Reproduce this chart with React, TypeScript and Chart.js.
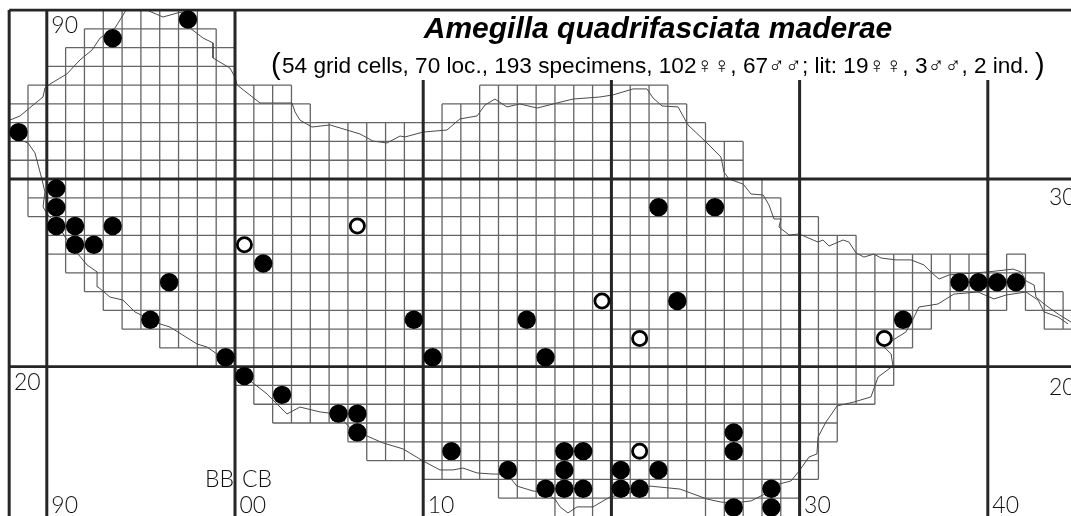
import React, { useEffect, useRef } from "react";
import { Chart, registerables } from "chart.js";

Chart.register(...registerables);

const titleText = "Amegilla quadrifasciata maderae";
const subtitleText = "54 grid cells, 70 loc., 193 specimens, 102\u2640\u2640, 67\u2642\u2642; lit: 19\u2640\u2640, 3\u2642\u2642, 2 ind.";

const eastTicks = [90, 100, 110, 130, 140];
const eastTickLabels = ["90", "00", "10", "30", "40"];
const thickEastFull = [88, 90, 100];
const thickEastShort = [110, 120, 130, 140];
const thickNorth = [39, 30, 20];

// survey cells: [northing of the row, from easting, to easting, ...]
const rows: number[][] = [
  [38, 93, 98],
  [37, 92, 99],
  [36, 91, 100],
  [35, 90, 100],
  [34, 89, 103, 113, 123],
  [33, 88, 104, 111, 124],
  [32, 88, 125],
  [31, 88, 127],
  [30, 88, 127],
  [29, 89, 128],
  [28, 89, 129],
  [27, 90, 131],
  [26, 90, 133],
  [25, 91, 140, 141, 142],
  [24, 92, 143],
  [23, 93, 141, 142, 144],
  [22, 94, 137, 143, 145],
  [21, 96, 136],
  [20, 98, 135],
  [19, 100, 135],
  [18, 101, 134],
  [17, 102, 132],
  [16, 106, 132],
  [15, 107, 131],
  [14, 110, 131],
  [13, 114, 130],
  [12, 117, 120, 125, 130],
];

const filledEast = [88.5, 93.5, 97.5, 90.5, 90.5, 90.5, 91.5, 93.5, 91.5, 92.5, 96.5, 95.5, 99.5, 100.5, 102.5, 105.5, 106.5, 106.5, 111.5, 114.5, 117.5, 118.5, 117.5, 116.5, 117.5, 118.5, 120.5, 122.5, 120.5, 121.5, 126.5, 126.5, 128.5, 128.5, 126.5, 109.5, 110.5, 115.5, 116.5, 122.5, 125.5, 123.5, 101.5, 135.5, 138.5, 139.5, 140.5, 141.5];
const filledNorth = [32.5, 37.5, 38.5, 29.5, 28.5, 27.5, 27.5, 27.5, 26.5, 26.5, 24.5, 22.5, 20.5, 19.5, 18.5, 17.5, 17.5, 16.5, 15.5, 14.5, 15.5, 15.5, 14.5, 13.5, 13.5, 13.5, 14.5, 14.5, 13.5, 13.5, 16.5, 15.5, 13.5, 12.5, 12.5, 22.5, 20.5, 22.5, 20.5, 28.5, 28.5, 23.5, 25.5, 22.5, 24.5, 24.5, 24.5, 24.5];
const openEast = [100.5, 106.5, 119.5, 121.5, 134.5, 121.5];
const openNorth = [26.5, 27.5, 23.5, 21.5, 21.5, 15.5];

const coastEast = [88.04, 88.58, 89.27, 89.8, 89.9, 90.17, 91.07, 91.76, 92.4, 92.83, 93.62, 94.15, 94.26, 94.58, 95.32, 96.17, 96.92, 97.24, 97.61, 98.3, 98.83, 98.83, 99.73, 100, 100.11, 101.33, 102.23, 103.03, 103.19, 103.45, 104.09, 105.05, 106.11, 106.64, 107.33, 108.08, 108.77, 109.03, 109.99, 111.26, 111.95, 112.86, 113.28, 113.81, 114.45, 115.14, 116.05, 117.11, 117.96, 119.39, 120.09, 121.15, 121.89, 122.21, 122.69, 123.54, 124.07, 125.08, 125.82, 125.98, 126.25, 127, 127.42, 128.06, 128.37, 128.64, 129.01, 128.9, 129.44, 129.97, 130.98, 131.24, 131.56, 132.31, 132.62, 133, 133.42, 133.95, 134.33, 135.12, 135.92, 136.61, 137.09, 137.41, 137.94, 140.01, 141.34, 141.76, 142.03, 142.46, 142.56, 142.99, 143.73, 144.42];
const coastNorth = [33.14, 33.36, 33.94, 34.37, 34.85, 35.06, 35.6, 36.34, 36.87, 37.51, 38.04, 38.9, 39.03, 39.03, 39, 38.63, 38.84, 38.9, 38.04, 37.51, 37.25, 36.45, 35.91, 35.43, 35.01, 34.05, 34.05, 34.05, 33.57, 33.14, 32.77, 32.88, 32.56, 32.4, 32.02, 31.92, 32.29, 32.24, 32.5, 32.61, 33.2, 33.36, 33.94, 34.26, 33.84, 34, 33.78, 34.05, 34.26, 34.37, 34.48, 34.8, 34.8, 34.32, 33.89, 33.84, 32.88, 31.92, 31.17, 30.37, 30, 29.73, 29.2, 29.15, 28.62, 27.87, 27.87, 27.44, 27.02, 27.07, 26.64, 26.75, 26.43, 26.75, 26.64, 26.06, 25.84, 26, 25.79, 25.69, 25.69, 25.42, 24.94, 24.67, 24.89, 25.05, 25.2, 25.05, 24.57, 24.35, 23.71, 23.34, 22.81, 22.38];
const coastSouthEast = [144.26, 143.73, 142.99, 142.67, 142.03, 140.97, 140.33, 139.48, 138.2, 137.94, 137.35, 136.34, 136.03, 135.65, 134.96, 134.48, 134.86, 134.96, 134.17, 133.79, 132.89, 131.99, 131.4, 130.98, 130.92, 130.5, 129.97, 129.54, 128.9, 128.48, 127.42, 126.51, 125.82, 125.08, 123.65, 122.05, 121.52, 119.92, 119.02, 118.17, 117.69, 117.27, 117, 116.37, 115.83, 114.98, 114.45, 113.71, 112.86, 112.11, 111.58, 110.89, 109.99, 108.93, 107.86, 107.01, 106.37, 105.42, 104.52, 103.45, 102.76, 101.7, 100.96, 100.53, 99.89, 99.04, 98.51, 97.98, 96.55, 96.01, 94.69, 94.05, 93.36, 92.72, 92.67, 92.14, 91.66, 90.97, 90.6, 90.06, 89.8, 89.9, 89.75, 89.64, 89.37, 89, 88.58];
const coastSouthNorth = [22.28, 22.65, 22.92, 23.55, 23.98, 23.82, 23.61, 23.98, 23.87, 23.71, 23.34, 23.18, 22.54, 21.85, 21.42, 21.05, 20.68, 20.04, 19.45, 18.39, 18.12, 17.91, 17.05, 16.25, 15.35, 15.19, 14.44, 13.91, 13.75, 13.38, 12.85, 12.74, 12.79, 12.95, 13.48, 13.64, 13.38, 13.06, 12.53, 12.53, 12.21, 12.53, 12.95, 13.32, 13.38, 13.64, 14.28, 14.28, 14.34, 14.6, 14.5, 14.5, 14.98, 15.62, 15.94, 16.31, 16.47, 17.48, 17.59, 17.85, 17.48, 18.55, 19.13, 19.45, 20.04, 20.68, 21.05, 21.21, 22.11, 22.28, 22.91, 23.55, 23.71, 24.25, 25.05, 25.42, 26, 26.91, 27.55, 28.08, 28.51, 29.31, 29.95, 30.37, 31.39, 31.92, 32.08];

const X_MIN = 87.513;
const X_MAX = 144.42;
const Y_MIN = 12.046;
const Y_MAX = 39.537;

const zip = (xs: number[], ys: number[]) => xs.map((x, i) => ({ x, y: ys[i] }));
const GAP = { x: NaN, y: NaN };

function gridPath() {
  const out: any[] = [];
  const seg = (x1: number, y1: number, x2: number, y2: number) => {
    out.push({ x: x1, y: y1 }, { x: x2, y: y2 }, GAP);
  };
  rows.forEach((r) => {
    const v = r[0];
    for (let i = 1; i < r.length; i += 2) {
      seg(r[i], v, r[i + 1], v);
      seg(r[i], v + 1, r[i + 1], v + 1);
      for (let u = r[i]; u <= r[i + 1]; u++) seg(u, v, u, v + 1);
    }
  });
  return out;
}

function thickPath(kind: "v" | "h" | "s") {
  const out: any[] = [];
  if (kind === "v") thickEastFull.forEach((u) => out.push({ x: u, y: Y_MIN }, { x: u, y: 39 }, GAP));
  if (kind === "s") thickEastShort.forEach((u) => out.push({ x: u, y: Y_MIN }, { x: u, y: 35.27 }, GAP));
  if (kind === "h") thickNorth.forEach((v) => out.push({ x: 88, y: v }, { x: X_MAX, y: v }, GAP));
  return out;
}

const INK = "#262626";
const lightFont = '"Lato", "Liberation Sans", sans-serif';

const textPlugin = {
  id: "mapText",
  afterDatasetsDraw(chart: any) {
    const { ctx, scales } = chart;
    const sx = scales.x;
    const sy = scales.y;
    const put = (t: string, x: number, y: number, font: string, color = "#111", align: CanvasTextAlign = "left") => {
      ctx.font = font;
      ctx.fillStyle = color;
      ctx.textAlign = align;
      ctx.textBaseline = "alphabetic";
      ctx.fillText(t, x, y);
    };
    ctx.save();
    const small = `300 23px ${lightFont}`;
    eastTicks.forEach((u, i) => put(eastTickLabels[i], sx.getPixelForValue(u) + 4.5, 512.5, small));
    put("90", sx.getPixelForValue(90) + 4.5, 33, small);
    put("BB", sx.getPixelForValue(100) - 30, 486.5, small);
    put("CB", sx.getPixelForValue(100) + 7, 486.5, small);
    put("20", 14, sy.getPixelForValue(20) + 23, small);
    put("20", 1049, sy.getPixelForValue(20) + 28, small);
    put("30", 1049, sy.getPixelForValue(30) + 26, small);
    const sans = '"Liberation Sans", "DejaVu Sans", sans-serif';
    put(titleText, 658, 38, `italic bold 30px ${sans}`, "#000", "center");
    put("(", 271, 74, `29px ${sans}`, "#000");
    put(subtitleText, 282, 72.5, `22.6px ${sans}`, "#000");
    put(")", 1035, 74, `29px ${sans}`, "#000");
    ctx.restore();
  },
};

export default function App() {
  const ref = useRef<HTMLCanvasElement>(null);
  useEffect(() => {
    const chart = new Chart(ref.current as HTMLCanvasElement, {
      type: "scatter",
      data: {
        datasets: [
          { label: "cells", data: gridPath(), showLine: true, pointRadius: 0, borderColor: "#646464", borderWidth: 1.3, order: 6 },
          { label: "coast north", data: zip(coastEast, coastNorth), showLine: true, pointRadius: 0, borderColor: "#4a4a4a", borderWidth: 1, order: 5 },
          { label: "coast south", data: zip(coastSouthEast, coastSouthNorth), showLine: true, pointRadius: 0, borderColor: "#4a4a4a", borderWidth: 1, order: 5 },
          { label: "grid long", data: thickPath("v"), showLine: true, pointRadius: 0, borderColor: INK, borderWidth: 3, order: 4 },
          { label: "grid short", data: thickPath("s"), showLine: true, pointRadius: 0, borderColor: INK, borderWidth: 3, order: 4 },
          { label: "grid north", data: thickPath("h"), showLine: true, pointRadius: 0, borderColor: INK, borderWidth: 2.8, order: 4 },
          { label: "records", data: zip(filledEast, filledNorth), pointRadius: 9.2, pointBackgroundColor: "#000", pointBorderWidth: 0, order: 2 },
          { label: "literature", data: zip(openEast, openNorth), pointRadius: 7.1, pointBackgroundColor: "#fff", pointBorderColor: "#000", pointBorderWidth: 2.8, order: 1 },
        ],
      },
      options: {
        animation: false,
        responsive: false,
        maintainAspectRatio: false,
        layout: { padding: 0, autoPadding: false },
        plugins: { legend: { display: false }, title: { display: false }, tooltip: { enabled: false } },
        scales: {
          x: { type: "linear", min: X_MIN, max: X_MAX, display: false },
          y: { type: "linear", min: Y_MIN, max: Y_MAX, display: false },
        },
      },
      plugins: [textPlugin],
    } as any);
    return () => chart.destroy();
  }, []);
  return (
    <div style={{ position: "fixed", left: 0, top: 0, width: 1071, height: 516, background: "#fff" }}>
      <canvas ref={ref} width={1071} height={516} style={{ display: "block" }} />
    </div>
  );
}
